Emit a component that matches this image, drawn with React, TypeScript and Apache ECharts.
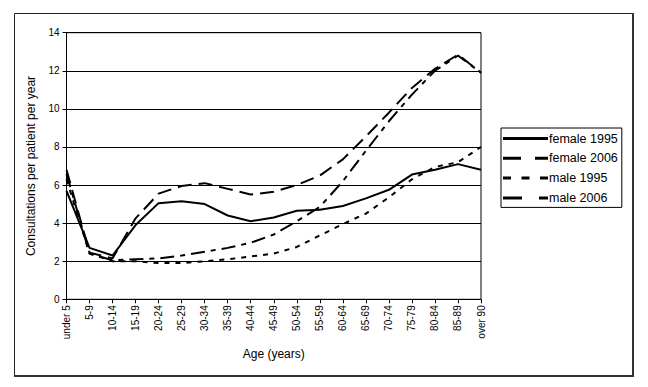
import React, { useEffect, useRef } from "react";
import * as echarts from "echarts";

const categories = [
  "under 5", "5-9", "10-14", "15-19", "20-24", "25-29", "30-34", "35-39", "40-44",
  "45-49", "50-54", "55-59", "60-64", "65-69", "70-74", "75-79", "80-84", "85-89", "over 90",
];
const female1995 = [5.7, 2.7, 2.3, 3.9, 5.05, 5.15, 5.0, 4.4, 4.1, 4.3, 4.65, 4.7, 4.9, 5.3, 5.75, 6.55, 6.8, 7.1, 6.8];
const female2006 = [6.8, 2.45, 2.15, 4.25, 5.55, 5.95, 6.1, 5.8, 5.5, 5.65, 6.0, 6.5, 7.35, 8.55, 9.8, 11.1, 12.1, 12.85, 11.9];
const male1995 = [6.3, 2.4, 2.0, 2.0, 1.9, 1.9, 2.0, 2.1, 2.25, 2.4, 2.75, 3.35, 3.95, 4.5, 5.35, 6.3, 6.95, 7.2, 8.0];
const male2006 = [6.6, 2.4, 2.05, 2.1, 2.15, 2.3, 2.5, 2.7, 2.97, 3.4, 4.1, 4.85, 6.2, 7.8, 9.35, 10.75, 12.0, 12.8, 11.9];
const seriesNames = ["female 1995", "female 2006", "male 1995", "male 2006"];
const yMin = 0;
const yMax = 14;
const yInterval = 2;

const FONT = "'Liberation Sans', Arial, sans-serif";

export default function App() {
  const ref = useRef<HTMLDivElement>(null);
  useEffect(() => {
    document.body.style.margin = "0";
    if (!ref.current) return;
    const chart = echarts.init(ref.current, null, { renderer: "svg" });
    const dashes: any[] = ["solid", [14, 7], [5, 6], [14, 6, 5, 6]];
    const icons = [
      "path://M0 0H45V3H0Z",
      "path://M0 0H18V3H0Z M32 0H45V3H32Z",
      "path://M0 0H8V3H0Z M18.5 0H26.5V3H18.5Z M37 0H45V3H37Z",
      "path://M0 0H19V3H0Z M36 0H45V3H36Z",
    ];
    const datasets = [female1995, female2006, male1995, male2006];
    chart.setOption({
      animation: false,
      backgroundColor: "#fff",
      textStyle: { fontFamily: FONT, color: "#000" },
      grid: {
        left: 66.5,
        right: 167,
        top: 32.7,
        bottom: 87.7,
        show: true,
        borderColor: "#000",
        borderWidth: 1,
        outerBoundsMode: "none",
      },
      legend: {
        data: seriesNames.map((name, i) => ({ name, icon: icons[i] })),
        orient: "vertical",
        left: 501,
        top: 128,
        itemWidth: 45,
        itemHeight: 3,
        itemGap: 6.8,
        padding: [4, 4, 3, 2],
        borderColor: "#000",
        borderWidth: 1,
        backgroundColor: "#fff",
        itemStyle: { color: "#000" },
        textStyle: { fontFamily: FONT, fontSize: 12.5, color: "#000", padding: [0, 0, 0, -4] },
      },
      xAxis: {
        type: "category",
        data: categories,
        boundaryGap: false,
        name: "Age (years)",
        nameLocation: "middle",
        nameGap: 49,
        nameTextStyle: { fontFamily: FONT, fontSize: 12, color: "#000" },
        axisLine: { lineStyle: { color: "#000", width: 1 } },
        axisTick: { show: true, length: 4, lineStyle: { color: "#000" } },
        axisLabel: { rotate: 90, fontSize: 10, color: "#000", margin: 6, fontFamily: FONT, interval: 0 },
        splitLine: { show: false },
      },
      yAxis: {
        type: "value",
        min: yMin,
        max: yMax,
        interval: yInterval,
        name: "Consultations per patient per year",
        nameLocation: "middle",
        nameGap: 24,
        nameTextStyle: { fontFamily: FONT, fontSize: 12, color: "#000" },
        axisLine: { show: true, lineStyle: { color: "#000", width: 1 } },
        axisTick: { show: true, length: 4, lineStyle: { color: "#000" } },
        axisLabel: { fontSize: 10, color: "#000", margin: 7, fontFamily: FONT },
        splitLine: { show: true, lineStyle: { color: "#000", width: 1 } },
      },
      series: seriesNames.map((name, i) => ({
        name,
        type: "line",
        data: datasets[i],
        symbol: "none",
        itemStyle: { color: "#000" },
        lineStyle: { color: "#000", width: 2, type: dashes[i] },
      })),
      graphic: [
        {
          type: "rect",
          shape: { x: 14.5, y: 13.5, width: 618, height: 362 },
          style: { fill: "none", stroke: "#222", lineWidth: 1 },
          silent: true,
        },
        {
          type: "line",
          shape: { x1: 633, y1: 13, x2: 633, y2: 376.5 },
          style: { stroke: "#333", lineWidth: 2 },
          silent: true,
        },
        {
          type: "line",
          shape: { x1: 14, y1: 376, x2: 634, y2: 376 },
          style: { stroke: "#333", lineWidth: 2 },
          silent: true,
        },
      ],
    });
    return () => chart.dispose();
  }, []);
  return (
    <div
      ref={ref}
      style={{ position: "absolute", left: 0, top: 0, width: 648, height: 387 }}
    />
  );
}
